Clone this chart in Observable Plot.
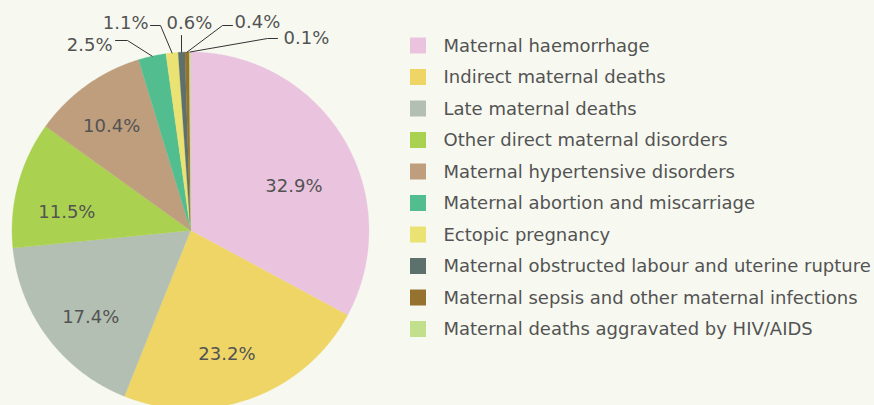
<!DOCTYPE html>
<html>
<head>
<meta charset="utf-8">
<script src="https://cdn.jsdelivr.net/npm/d3@7"></script>
<script src="https://cdn.jsdelivr.net/npm/@observablehq/plot@0.6"></script>
<style>
  html, body { margin: 0; padding: 0; background: #f7f9f1; }
  #chart svg { display: block; }
</style>
</head>
<body>
<div id="chart"></div>
<script>
// ---------- data ----------
const categories = [
  "Maternal haemorrhage",
  "Indirect maternal deaths",
  "Late maternal deaths",
  "Other direct maternal disorders",
  "Maternal hypertensive disorders",
  "Maternal abortion and miscarriage",
  "Ectopic pregnancy",
  "Maternal obstructed labour and uterine rupture",
  "Maternal sepsis and other maternal infections",
  "Maternal deaths aggravated by HIV/AIDS"
];
const shares = [32.9, 23.2, 17.4, 11.5, 10.4, 2.5, 1.1, 0.6, 0.4, 0.1];
const shareLabels = ["32.9%", "23.2%", "17.4%", "11.5%", "10.4%", "2.5%", "1.1%", "0.6%", "0.4%", "0.1%"];
const colors = ["#eac4df", "#eed566", "#b2bfb2", "#abd150", "#bf9e7e", "#52be8f", "#ebe274", "#5c706c", "#967230", "#c2df8b"];

// ---------- layout ----------
const W = 874, H = 405;
const CX = 190, CY = 230, R = 178.5;
const textColor = "#535353";
const font = "DejaVu Sans";
const fs = 18;
// inner label placement: [angle nudge (deg), radius fraction]
const innerLayout = [[7.7, 0.63], [3.5, 0.72], [-4, 0.74], [-6.7, 0.70], [-1.6, 0.73]];
// outer callouts for the small slices: text position/anchor and elbow of leader line
const calloutLayout = [
  {i: 5, tx: 112, ty: 45, anchor: "end",    elbow: [[127, 40], [115, 40]]},
  {i: 6, tx: 148, ty: 23, anchor: "end",    elbow: [[160, 25], [150, 25]]},
  {i: 7, tx: 166, ty: 23, anchor: "start",  elbow: [[181, 35]]},
  {i: 8, tx: 234, ty: 22, anchor: "start",  elbow: [[222, 25], [232, 25]]},
  {i: 9, tx: 283, ty: 38, anchor: "start",  elbow: [[267, 38], [277, 38]]}
];
const legendX = 410, legendTextX = 443, legendTop = 45.5, legendStep = 31.5, sw = 16;

// ---------- derived geometry ----------
const arcs = d3.pie().sort(null).value(d => d)(shares);
const polar = (a, r) => ({x: CX + r * Math.sin(a), y: CY - r * Math.cos(a)});

const wedgePts = [];
arcs.forEach((a, i) => {
  const cat = categories[i];
  const n = Math.max(2, Math.ceil((a.endAngle - a.startAngle) / 0.005));
  wedgePts.push({cat, x: CX, y: CY});
  for (let k = 0; k <= n; k++) {
    const t = a.startAngle + (a.endAngle - a.startAngle) * k / n;
    const p = polar(t, R);
    wedgePts.push({cat, x: p.x, y: p.y});
  }
  wedgePts.push({cat, x: CX, y: CY});
});

const innerLabels = innerLayout.map(([nudge, rf], i) => {
  const a = arcs[i];
  const mid = (a.startAngle + a.endAngle) / 2 + nudge * Math.PI / 180;
  const p = polar(mid, R * rf);
  return {x: p.x, y: p.y, text: shareLabels[i]};
});

const leaderPts = [];
const outerLabels = [];
calloutLayout.forEach(c => {
  const a = arcs[c.i];
  const mid = (a.startAngle + a.endAngle) / 2;
  const p = polar(mid, R);
  leaderPts.push({k: c.i, x: p.x, y: p.y});
  c.elbow.forEach(([x, y]) => leaderPts.push({k: c.i, x, y}));
  outerLabels.push({x: c.tx, y: c.ty, text: shareLabels[c.i], anchor: c.anchor});
});

const legend = categories.map((c, i) => ({cat: c, y: legendTop + i * legendStep}));

// ---------- chart ----------
const chart = Plot.plot({
  width: W,
  height: H,
  margin: 0,
  style: {background: "#f7f9f1", fontFamily: font},
  x: {domain: [0, W], range: [0, W], axis: null},
  y: {domain: [0, H], range: [0, H], axis: null},
  color: {domain: categories, range: colors},
  marks: [
    Plot.line(wedgePts, {x: "x", y: "y", z: "cat", fill: "cat", stroke: "cat", strokeWidth: 0.3, curve: "linear"}),
    Plot.text(innerLabels, {x: "x", y: "y", text: "text", fill: textColor, fontSize: fs}),
    Plot.line(leaderPts, {x: "x", y: "y", z: "k", stroke: "#333333", strokeWidth: 1}),
    Plot.text(outerLabels.filter(d => d.anchor === "end"), {x: "x", y: "y", text: "text", textAnchor: "end", fill: textColor, fontSize: fs}),
    Plot.text(outerLabels.filter(d => d.anchor === "start"), {x: "x", y: "y", text: "text", textAnchor: "start", fill: textColor, fontSize: fs}),
    Plot.rect(legend, {x1: () => legendX, x2: () => legendX + sw, y1: d => d.y - sw / 2, y2: d => d.y + sw / 2, fill: "cat"}),
    Plot.text(legend, {x: () => legendTextX, y: "y", text: "cat", textAnchor: "start", fill: textColor, fontSize: fs})
  ]
});
document.getElementById("chart").append(chart);
</script>
</body>
</html>
